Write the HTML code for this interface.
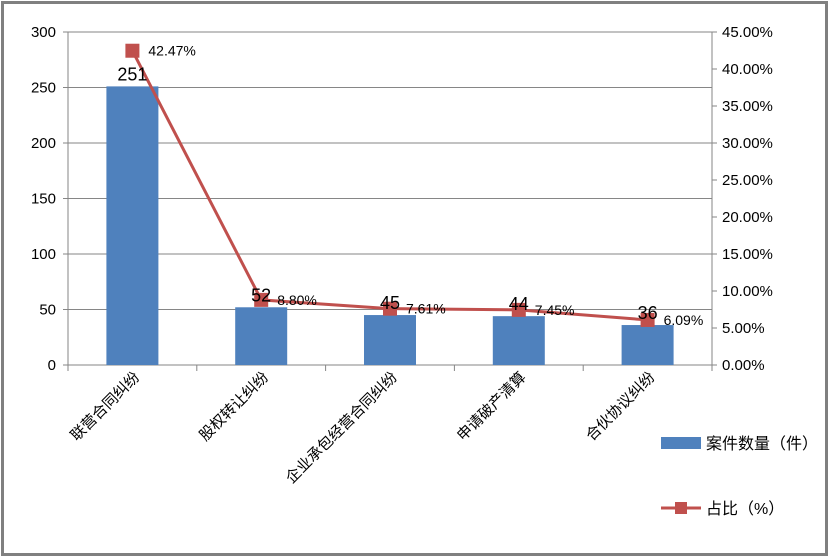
<!DOCTYPE html>
<html><head><meta charset="utf-8"><style>
body{margin:0;background:#fff;}
svg{display:block;font-family:"Liberation Sans","Noto Sans CJK SC",sans-serif;}
</style></head><body>
<svg id="c" width="831" height="559">
<rect x="2.5" y="2.5" width="824" height="552" fill="#fff" stroke="#808080" stroke-width="3"/>
<g id="g"></g>
</svg>
<script>
const categories=["联营合同纠纷","股权转让纠纷","企业承包经营合同纠纷","申请破产清算","合伙协议纠纷"];
const counts=[251,52,45,44,36];
const shares=[42.47,8.80,7.61,7.45,6.09];
const leftTicks=[0,50,100,150,200,250,300];
const rightTicks=[0,5,10,15,20,25,30,35,40,45];
const NS="http://www.w3.org/2000/svg";
const g=document.getElementById('g');
const X0=68,X1=712,Y0=365,Y1=32;
const band=(X1-X0)/categories.length;
const yL=v=>Y0-(v/300)*(Y0-Y1);
const yR=v=>Y0-(v/45)*(Y0-Y1);
const xc=i=>X0+band*(i+0.5);
function el(t,a,txt){const e=document.createElementNS(NS,t);for(const k in a)e.setAttribute(k,a[k]);if(txt!==undefined)e.textContent=txt;g.appendChild(e);return e;}
leftTicks.forEach(v=>{
 const gl=el('line',{x1:X0-5,x2:X1,y1:yL(v),y2:yL(v),stroke:v===0?'#868686':'#868686','stroke-width':1});
 
 
 const t=el('text',{x:X0-12,y:yL(v)+5,'text-anchor':'end','font-size':15,fill:'#000'},String(v));
 
 
});
const ax=el('line',{x1:X0,x2:X0,y1:Y1,y2:Y0,stroke:'#868686'});


const ax2=el('line',{x1:X1,x2:X1,y1:Y1,y2:Y0+5,stroke:'#868686'});


rightTicks.forEach(v=>{
 const tk=el('line',{x1:X1,x2:X1+5,y1:yR(v),y2:yR(v),stroke:'#868686'});
 
 
 const t=el('text',{x:X1+10,y:yR(v)+5,'font-size':15,fill:'#000'},v.toFixed(2)+'%');
 
 
});
for(let i=0;i<=categories.length;i++){
 const tk=el('line',{x1:X0+band*i,x2:X0+band*i,y1:Y0,y2:Y0+6,stroke:'#868686'});
 
 
}
categories.forEach((c,i)=>{
 const x=xc(i);
 const b=el('rect',{x:x-26,y:yL(counts[i]),width:52,height:Y0-yL(counts[i]),fill:'#4f81bd'});
 
 
 const t=el('text',{x:x+8,y:378,'text-anchor':'end','font-size':15,fill:'#000',transform:`rotate(-45 ${x+8} 378)`},c);
 
 
});
const pts=shares.map((s,i)=>xc(i)+','+yR(s)).join(' ');
const pl=el('polyline',{points:pts,fill:'none',stroke:'#c0504d','stroke-width':3});


shares.forEach((s,i)=>{
 const x=xc(i),y=yR(s);
 const m=el('rect',{x:x-7,y:y-7,width:14,height:14,fill:'#c0504d'});
 
 
 const t=el('text',{x:x+16,y:y+5,'font-size':14,fill:'#000'},s.toFixed(2)+'%');
 
 
 const ct=el('text',{x:x,y:yL(counts[i])-6,'text-anchor':'middle','font-size':18,fill:'#000'},String(counts[i]));
 
 
});
</script>
<svg style="position:absolute;left:0;top:0" width="831" height="559">
<rect x="661" y="437" width="40" height="12" fill="#4f81bd"/>
<text x="706" y="449" font-size="16" font-family="Liberation Sans,Noto Sans CJK SC,sans-serif">案件数量（件）</text>
<line x1="661" y1="508" x2="701" y2="508" stroke="#c0504d" stroke-width="3"/>
<rect x="675" y="502" width="12" height="12" fill="#c0504d"/>
<text x="706" y="514" font-size="16" font-family="Liberation Sans,Noto Sans CJK SC,sans-serif">占比（%）</text>
</svg>
</body></html>
